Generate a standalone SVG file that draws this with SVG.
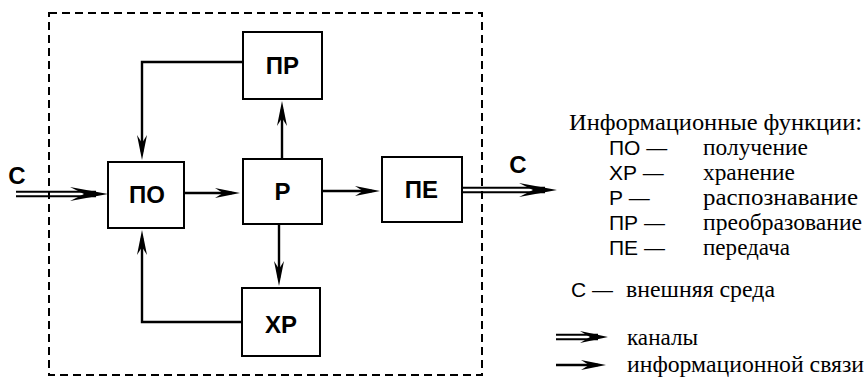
<svg xmlns="http://www.w3.org/2000/svg" width="868" height="377" viewBox="0 0 868 377">
<style>
.box{fill:#fff;stroke:#000;stroke-width:2}
.lbl{font-family:"Liberation Sans",Arial,sans-serif;font-weight:bold;font-size:24px;text-anchor:middle;fill:#000}
.ln{fill:none;stroke:#000;stroke-width:2.4}
.dbl{fill:none;stroke:#000;stroke-width:2}
.sans{font-family:"Liberation Sans",Arial,sans-serif;font-size:21px;fill:#000}
.serif{font-family:"Liberation Serif","Times New Roman",serif;font-size:24px;fill:#000}
</style>
<defs>
<marker id="ah" markerUnits="userSpaceOnUse" viewBox="0 -6 26 12" markerWidth="26" markerHeight="12" refX="17" refY="0" orient="auto">
<path d="M0,-5 L25,0 L0,5 L8,0 Z" fill="#000"/>
</marker>
</defs>
<rect x="49" y="13" width="433" height="362" fill="none" stroke="#000" stroke-width="2" stroke-dasharray="8,5"/>
<g id="connectors">
<line class="ln" x1="184" y1="193" x2="232" y2="193" marker-end="url(#ah)"/>
<line class="ln" x1="322" y1="191" x2="372" y2="191" marker-end="url(#ah)"/>
<line class="ln" x1="282" y1="159" x2="282" y2="109" marker-end="url(#ah)"/>
<line class="ln" x1="279" y1="224" x2="279" y2="278" marker-end="url(#ah)"/>
<polyline class="ln" points="243,62 142,62 142,152" marker-end="url(#ah)"/>
<polyline class="ln" points="242,322 142,322 142,238" marker-end="url(#ah)"/>
<g id="in-channel">
<line class="dbl" x1="16" y1="191.8" x2="96" y2="191.8"/>
<line class="dbl" x1="16" y1="196.2" x2="96" y2="196.2"/>
<path d="M108,194 L70,187 L84,194 L70,201 Z" fill="#000"/>
</g>
<g id="out-channel">
<line class="dbl" x1="463" y1="187.8" x2="545" y2="187.8"/>
<line class="dbl" x1="463" y1="192.2" x2="545" y2="192.2"/>
<path d="M557,190 L519,183 L533,190 L519,197 Z" fill="#000"/>
</g>
</g>
<g id="PR"><rect class="box" x="243" y="32" width="79" height="67"/><text class="lbl" x="282.5" y="74">ПР</text></g>
<g id="PO"><rect class="box" x="108" y="162" width="76" height="66"/><text class="lbl" x="147" y="203">ПО</text></g>
<g id="P"><rect class="box" x="243" y="159" width="79" height="65"/><text class="lbl" x="282.5" y="200">Р</text></g>
<g id="PE"><rect class="box" x="382" y="157" width="80" height="65"/><text class="lbl" x="421.5" y="198">ПЕ</text></g>
<g id="XR"><rect class="box" x="242" y="288" width="78" height="68"/><text class="lbl" x="281" y="333">ХР</text></g>
<text class="lbl" x="17" y="184">С</text>
<text class="lbl" x="518" y="173">С</text>
<g id="legend">
<text class="serif" x="569" y="130" textLength="293" lengthAdjust="spacingAndGlyphs">Информационные функции:</text>
<text class="sans" x="609" y="155">ПО —</text><text class="serif" x="703" y="155" textLength="105" lengthAdjust="spacingAndGlyphs">получение</text>
<text class="sans" x="609" y="180">ХР —</text><text class="serif" x="703" y="180" textLength="92" lengthAdjust="spacingAndGlyphs">хранение</text>
<text class="sans" x="609" y="205">Р —</text><text class="serif" x="703" y="205" textLength="155" lengthAdjust="spacingAndGlyphs">распознавание</text>
<text class="sans" x="609" y="230">ПР —</text><text class="serif" x="703" y="230" textLength="159" lengthAdjust="spacingAndGlyphs">преобразование</text>
<text class="sans" x="609" y="255">ПЕ —</text><text class="serif" x="703" y="255" textLength="87" lengthAdjust="spacingAndGlyphs">передача</text>
<text class="sans" x="571" y="297">С —</text><text class="serif" x="626" y="297" textLength="149" lengthAdjust="spacingAndGlyphs">внешняя среда</text>
<line class="dbl" x1="556" y1="334.8" x2="598" y2="334.8"/>
<line class="dbl" x1="556" y1="339.2" x2="598" y2="339.2"/>
<path d="M608,337 L580,331 L590,337 L580,343 Z" fill="#000"/>
<text class="serif" x="627" y="345" textLength="71" lengthAdjust="spacingAndGlyphs">каналы</text>
<line class="ln" x1="556" y1="365" x2="598" y2="365" marker-end="url(#ah)"/>
<text class="serif" x="627" y="372" textLength="237" lengthAdjust="spacingAndGlyphs">информационной связи</text>
</g>
</svg>
